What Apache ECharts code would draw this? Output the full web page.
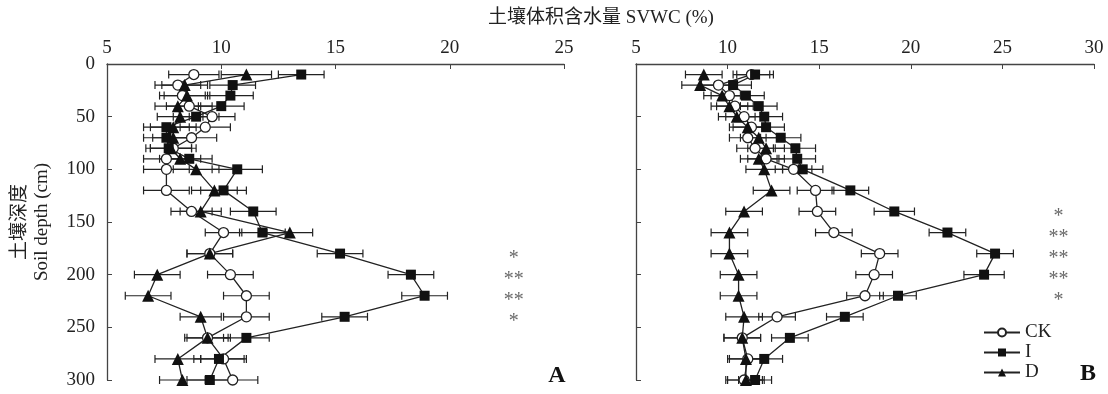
<!DOCTYPE html>
<html>
<head>
<meta charset="utf-8">
<script src="https://cdn.jsdelivr.net/npm/echarts@6/dist/echarts.min.js"></script>
<style>
  html, body { margin: 0; padding: 0; background: #fff; }
  #chart { width: 1108px; height: 394px; }
</style>
</head>
<body>
<div id="chart"></div>
<script>
// depth of each sampling layer (cm)
const depths = [10, 20, 30, 40, 50, 60, 70, 80, 90, 100, 120, 140, 160, 180, 200, 220, 240, 260, 280, 300];

// panel A: soil volumetric water content (%)
const ckA = [8.8, 8.1, 8.3, 8.6, 9.6, 9.3, 8.7, 7.9, 7.6, 7.6, 7.6, 8.7, 10.1, 9.5, 10.4, 11.1, 11.1, 9.4, 10.1, 10.5];
const iA = [13.5, 10.5, 10.4, 10.0, 8.9, 7.6, 7.6, 7.7, 8.6, 10.7, 10.1, 11.4, 11.8, 15.2, 18.3, 18.9, 15.4, 11.1, 9.9, 9.5];
const dA = [11.1, 8.4, 8.5, 8.1, 8.2, 7.9, 7.9, 7.8, 8.2, 8.9, 9.7, 9.1, 13.0, 9.5, 7.2, 6.8, 9.1, 9.4, 8.1, 8.3];
const ckAErr = [1.1, 1.0, 1.0, 1.0, 1.0, 1.1, 1.1, 1.0, 1.0, 1.0, 1.0, 0.9, 0.8, 1.0, 1.0, 1.0, 1.0, 1.0, 1.0, 1.1];
const iAErr = [1.0, 1.0, 1.0, 1.0, 1.0, 1.0, 1.0, 1.0, 1.0, 1.1, 1.0, 1.0, 1.0, 1.0, 1.0, 1.0, 1.0, 1.0, 1.1, 1.0];
const dAErr = [1.1, 1.0, 1.0, 1.0, 1.0, 1.0, 0.9, 0.9, 0.9, 1.0, 1.0, 0.9, 1.0, 1.0, 1.0, 1.0, 0.9, 0.9, 1.0, 1.0];

// panel B
const ckB = [11.3, 9.5, 10.1, 10.4, 10.9, 11.3, 11.1, 11.5, 12.1, 13.6, 14.8, 14.9, 15.8, 18.3, 18.0, 17.5, 12.7, 10.8, 11.1, 10.9];
const iB = [11.5, 10.3, 11.0, 11.7, 12.0, 12.1, 12.9, 13.7, 13.8, 14.1, 16.7, 19.1, 22.0, 24.6, 24.0, 19.3, 16.4, 13.4, 12.0, 11.5];
const dB = [8.7, 8.5, 9.7, 10.1, 10.5, 11.1, 11.7, 12.1, 11.7, 12.0, 12.4, 10.9, 10.1, 10.1, 10.6, 10.6, 10.9, 10.8, 11.0, 11.0];
const ckBErr = [1.0, 1.0, 1.0, 1.0, 1.0, 1.0, 1.0, 1.0, 1.0, 1.0, 1.0, 1.0, 1.0, 1.0, 1.0, 1.0, 1.0, 1.0, 1.0, 1.0];
const iBErr = [1.0, 1.0, 1.0, 1.0, 1.0, 1.0, 1.1, 1.1, 1.0, 1.1, 1.0, 1.1, 1.0, 1.0, 1.1, 1.0, 1.0, 1.0, 1.0, 0.9];
const dBErr = [1.0, 1.0, 1.0, 1.0, 1.0, 1.0, 1.0, 1.0, 1.0, 1.0, 1.0, 1.0, 1.0, 1.0, 1.0, 1.0, 1.0, 1.0, 1.0, 1.0];

// significance marks
const sigA = ['*', '**', '**', '*'];
const sigDepthA = [180, 200, 220, 240];
const sigB = ['*', '**', '**', '**', '*'];
const sigDepthB = [140, 160, 180, 200, 220];

const xTicksA = [5, 10, 15, 20, 25];
const xTicksB = [5, 10, 15, 20, 25, 30];

const serif = "'Liberation Serif', 'Times New Roman', 'Noto Sans CJK SC', serif";
const ink = '#222';

const pairs = (vals) => vals.map((v, i) => [v, depths[i]]);
const withErr = (vals, err) => vals.map((v, i) => [v, depths[i], err[i]]);

const errBar = (params, api) => {
	const v = api.value(0), d = api.value(1), e = api.value(2);
	const a = api.coord([v - e, d]);
	const b = api.coord([v + e, d]);
	const h = 4;
	const st = { stroke: ink, lineWidth: 1.2 };
	return {
		type: 'group',
		children: [
			{ type: 'line', shape: { x1: a[0], y1: a[1], x2: b[0], y2: b[1] }, style: st },
			{ type: 'line', shape: { x1: a[0], y1: a[1] - h, x2: a[0], y2: a[1] + h }, style: st },
			{ type: 'line', shape: { x1: b[0], y1: b[1] - h, x2: b[0], y2: b[1] + h }, style: st },
		],
	};
};

const styles = {
	CK: { symbol: 'circle', symbolSize: 10, itemStyle: { color: '#fff', borderColor: ink, borderWidth: 1.3 } },
	I: { symbol: 'rect', symbolSize: 10, itemStyle: { color: '#111', borderColor: '#111', borderWidth: 0 } },
	D: { symbol: 'triangle', symbolSize: 12, itemStyle: { color: '#111', borderColor: '#111', borderWidth: 0 } },
};

const panelSeries = (idx, data) => {
	let out = [];
	data.forEach(([name, vals, err]) => {
		out.push({
			type: 'custom',
			xAxisIndex: idx,
			yAxisIndex: idx,
			renderItem: errBar,
			encode: { x: 0, y: 1 },
			data: withErr(vals, err),
			z: 1,
			silent: true,
		});
	});
	data.forEach(([name, vals]) => {
		out.push(Object.assign({
			name: name,
			type: 'line',
			xAxisIndex: idx,
			yAxisIndex: idx,
			data: pairs(vals),
			lineStyle: { color: ink, width: 1.3 },
			z: 3,
		}, styles[name]));
	});
	return out;
};

const sigSeries = (idx, xPos, marks, ds) => ({
	type: 'scatter',
	xAxisIndex: idx,
	yAxisIndex: idx,
	symbolSize: 0,
	data: marks.map((m, i) => [xPos, ds[i], m]),
	label: {
		show: true,
		position: 'inside',
		formatter: (p) => p.value[2],
		fontFamily: serif,
		fontSize: 20,
		color: '#444',
		offset: [0, 5],
	},
	z: 4,
});

const xAxis = (idx, max, showLabel) => ({
	gridIndex: idx,
	type: 'value',
	position: 'top',
	min: 5,
	max: max,
	interval: 5,
	axisLine: { show: true, lineStyle: { color: '#444', width: 1.3 } },
	axisTick: { show: true, inside: true, length: 5, lineStyle: { color: '#444' } },
	axisLabel: { show: showLabel, fontFamily: serif, fontSize: 19, color: ink, margin: 6 },
	splitLine: { show: false },
});

const yAxis = (idx, showLabel) => ({
	gridIndex: idx,
	type: 'value',
	inverse: true,
	min: 0,
	max: 300,
	interval: 50,
	axisLine: { show: true, lineStyle: { color: '#444', width: 1.3 } },
	axisTick: { show: true, inside: true, length: 5, lineStyle: { color: '#444' } },
	axisLabel: { show: showLabel, fontFamily: serif, fontSize: 19, color: ink, margin: 12 },
	splitLine: { show: false },
	name: showLabel ? '土壤深度\nSoil depth (cm)' : '',
	nameLocation: 'middle',
	nameRotate: 90,
	nameGap: 54,
	nameTextStyle: { fontFamily: serif, fontSize: 19, color: ink, lineHeight: 22 },
});

const chart = echarts.init(document.getElementById('chart'), null, { renderer: 'canvas' });

chart.setOption({
	animation: false,
	backgroundColor: '#fff',
	grid: [
		{ left: 107, top: 64, width: 457, height: 316 },
		{ left: 636, top: 64, width: 458, height: 316 },
	],
	xAxis: [xAxis(0, xTicksA[xTicksA.length - 1], true), xAxis(1, xTicksB[xTicksB.length - 1], true)],
	yAxis: [yAxis(0, true), yAxis(1, false)],
	legend: {
		data: ['CK', 'I', 'D'],
		orient: 'vertical',
		left: 978,
		top: 318,
		itemWidth: 36,
		itemHeight: 10,
		itemGap: 1,
		textStyle: { fontFamily: serif, fontSize: 19, color: ink, lineHeight: 18 },
	},
	graphic: [
		{
			type: 'text',
			x: 601,
			y: 18,
			style: {
				text: '土壤体积含水量 SVWC (%)',
				font: "19px 'Liberation Serif', 'Noto Sans CJK SC', serif",
				fill: ink,
				align: 'center',
				verticalAlign: 'middle',
			},
		},
		{
			type: 'text',
			x: 557,
			y: 376,
			style: { text: 'A', font: "bold 24px 'Liberation Serif', serif", fill: '#111', align: 'center', verticalAlign: 'middle' },
		},
		{
			type: 'text',
			x: 1088,
			y: 374,
			style: { text: 'B', font: "bold 24px 'Liberation Serif', serif", fill: '#111', align: 'center', verticalAlign: 'middle' },
		},
	],
	series: [
		...panelSeries(0, [['CK', ckA, ckAErr], ['I', iA, iAErr], ['D', dA, dAErr]]),
		...panelSeries(1, [['CK', ckB, ckBErr], ['I', iB, iBErr], ['D', dB, dBErr]]),
		sigSeries(0, 22.8, sigA, sigDepthA),
		sigSeries(1, 28.06, sigB, sigDepthB),
	],
});
</script>
</body>
</html>
